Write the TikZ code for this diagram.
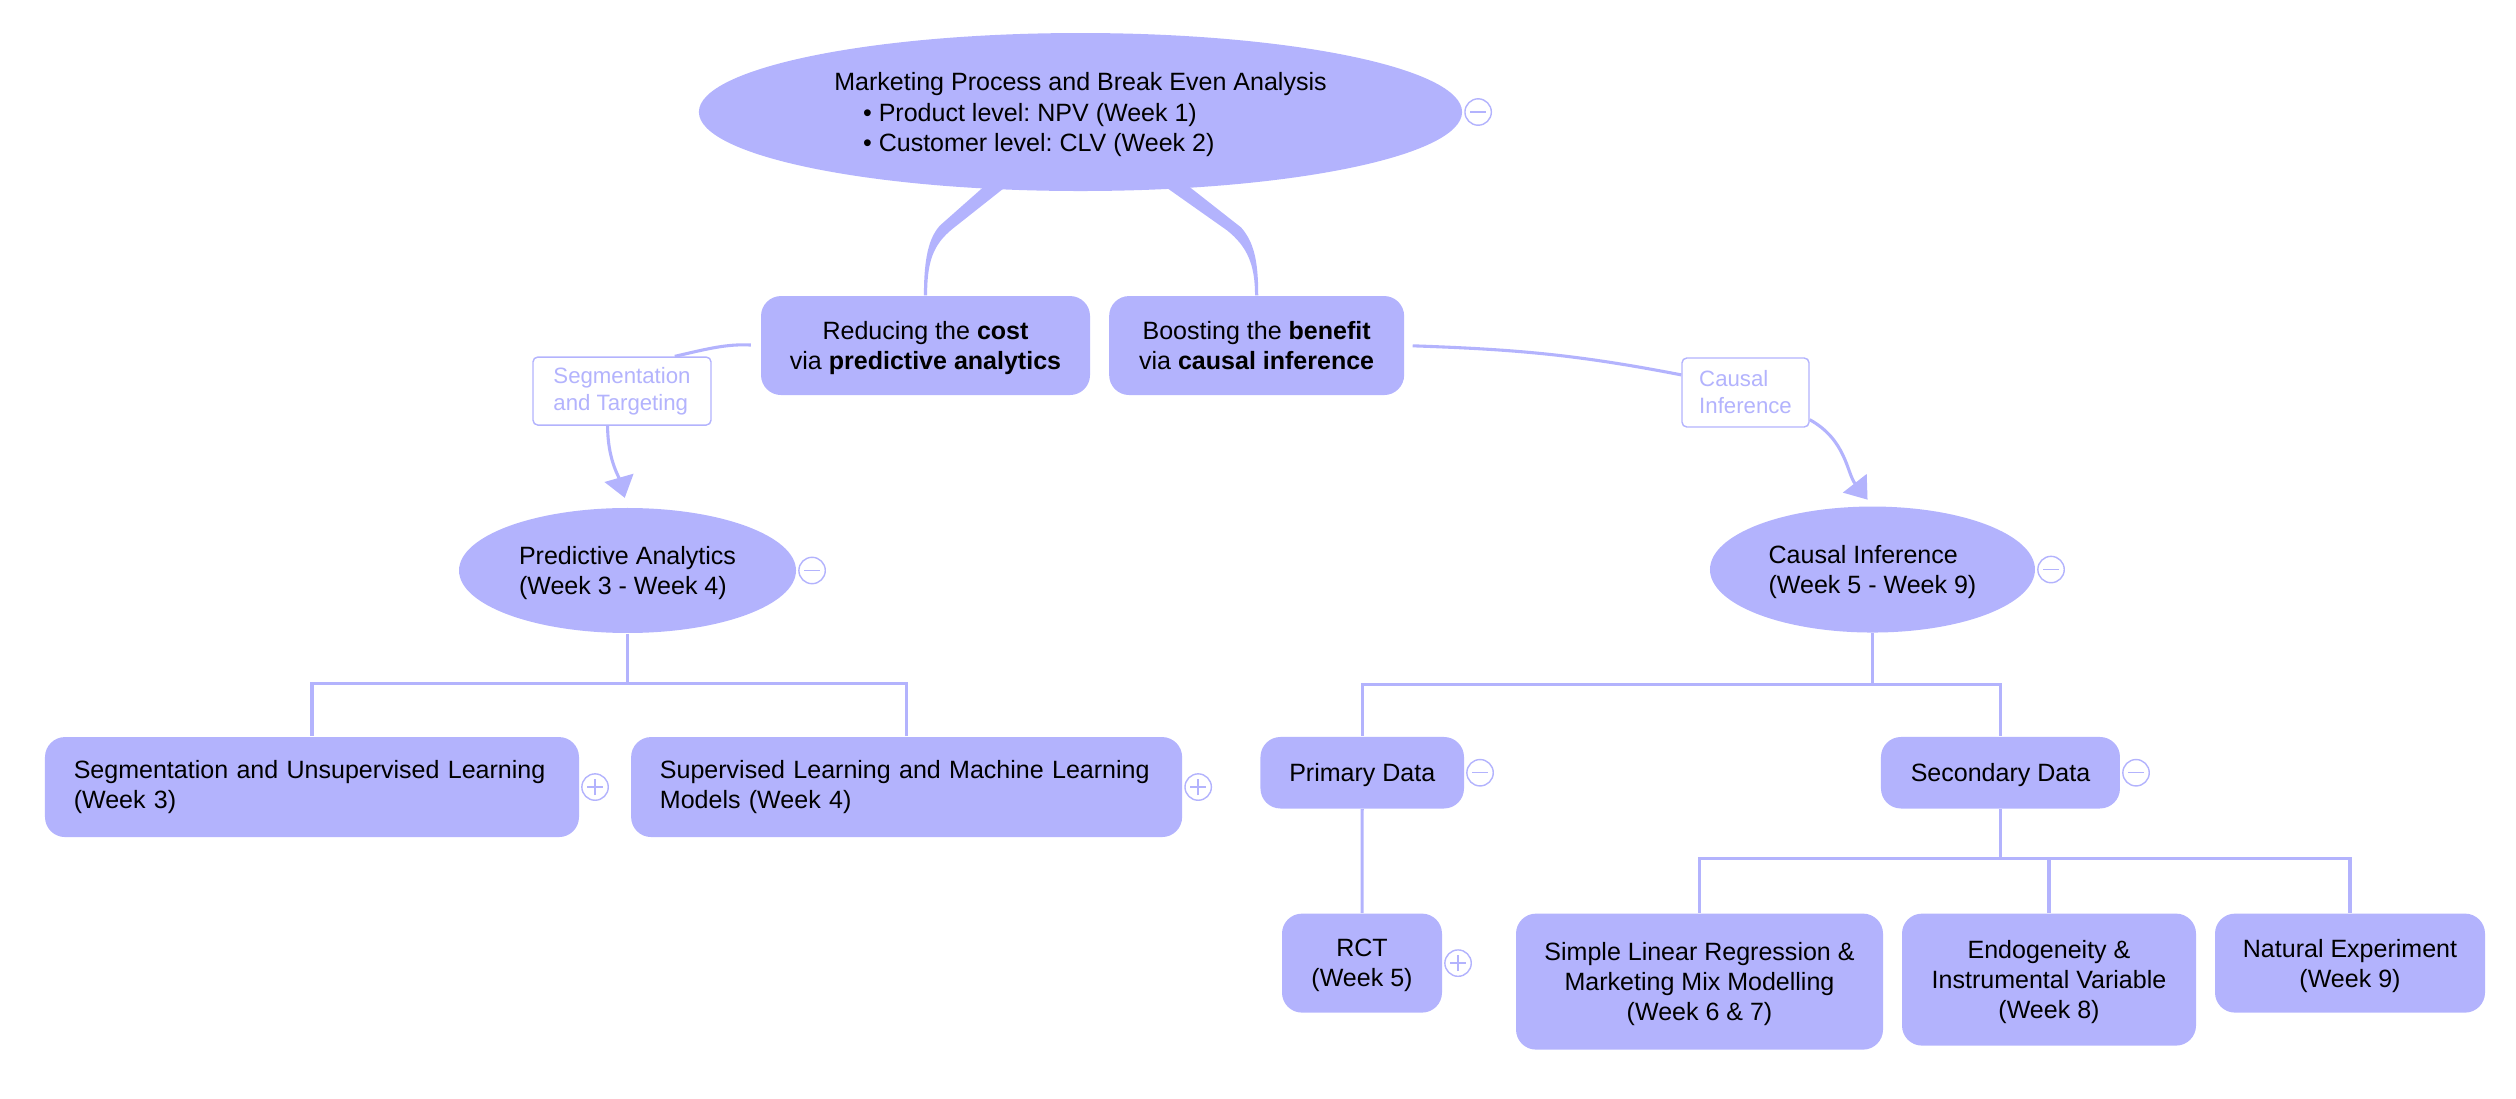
\documentclass[tikz,border=0pt]{standalone}
\usepackage{fontspec}
\setmainfont{Liberation Sans}
\usetikzlibrary{positioning}
\usetikzlibrary{calc}
\usetikzlibrary{shapes}
\usetikzlibrary{arrows.meta}
\definecolor{topic}{RGB}{179,179,253}
\frenchspacing

\begin{document}
\begin{tikzpicture}
\fontsize{8.9}{10.7}\selectfont

% used shapes
\tikzstyle{topicbox} = [rectangle, fill=topic, rounded corners=0.25cm, inner sep=0pt, text depth=0pt, align=center]
\tikzstyle{leftbox} = [rectangle, fill=topic, rounded corners=0.25cm, inner ysep=0pt, inner xsep=0.36cm, align=left, minimum height=1.25cm]
\tikzstyle{topicell} = [ellipse, fill=topic, inner sep=0pt, text depth=0pt, align=left]
\tikzstyle{tag} = [rectangle, draw=topic, line width=0.5pt, fill=white, rounded corners=0.06cm, text=topic, inner sep=0pt, align=left, font=\fontsize{7.9}{9.6}\selectfont]
\tikzstyle{fold} = [circle, draw=topic, line width=0.5pt, fill=white, minimum size=0.33cm, inner sep=0pt]
\tikzstyle{foldminus} = [fold, path picture={\draw[topic, line width=0.5pt] ([xshift=-0.1cm]path picture bounding box.center) -- ([xshift=0.1cm]path picture bounding box.center);}]
\tikzstyle{foldplus} = [fold, path picture={\draw[topic, line width=0.5pt] ([xshift=-0.1cm]path picture bounding box.center) -- ([xshift=0.1cm]path picture bounding box.center) ([yshift=-0.1cm]path picture bounding box.center) -- ([yshift=0.1cm]path picture bounding box.center);}]
\tikzstyle{branch} = [draw=topic, line width=1.1pt]
\tikzstyle{linkarrow} = [draw=topic, line width=1.1pt, -{Triangle[width=0.37cm,length=0.26cm]}]

\useasboundingbox (0,0) rectangle (31.45,-13.725);

% central topic
\node [topicell, minimum width=9.54cm, minimum height=1.975cm] (mkt) at (13.506,-1.4) {Marketing Process and Break Even Analysis\\ \hspace*{0.36cm}\textbullet\ Product level: NPV (Week 1)\\ \hspace*{0.36cm}\textbullet\ Customer level: CLV (Week 2)};
\node [foldminus, right=0.02cm of mkt] (mktfold) {};

\node [topicbox, minimum width=4.1125cm, minimum height=1.2375cm] (reduce) at (11.569,-4.319) {Reducing the \textbf{cost}\\ via \textbf{predictive analytics}};
\node [topicbox, minimum width=3.6875cm, minimum height=1.2375cm, right=0.225cm of reduce] (boost) {Boosting the \textbf{benefit}\\ via \textbf{causal inference}};

\node [tag, minimum width=2.225cm, minimum height=0.85cm] (seglbl) at (7.775,-4.888) {Segmentation\\ and Targeting};
\node [tag, minimum width=1.5875cm, minimum height=0.8625cm] (cilbl) at (21.819,-4.906) {Causal\\ Inference};

% predictive side
\node [topicell, minimum width=4.2125cm, minimum height=1.5625cm] (pred) at (7.844,-7.131) {Predictive Analytics\\ (Week 3 - Week 4)};
\node [foldminus, right=0.02cm of pred] (predfold) {};

\node [leftbox, text width=5.955cm] (segbox) at (3.9,-9.838) {Segmentation and Unsupervised Learning\\ (Week 3)};
\node [leftbox, text width=6.1675cm, right=0.6375cm of segbox] (supbox) {Supervised Learning and Machine Learning\\ Models (Week 4)};
\node [foldplus, right=0.02cm of segbox] (segfold) {};
\node [foldplus, right=0.02cm of supbox] (supfold) {};

% causal side
\node [topicell, minimum width=4.0625cm, minimum height=1.575cm] (causal) at (23.406,-7.119) {Causal Inference\\ (Week 5 - Week 9)};
\node [foldminus, right=0.02cm of causal] (causalfold) {};

\node [topicbox, minimum width=2.544cm, minimum height=0.894cm] (primary) at (17.028,-9.659) {Primary Data};
\node [topicbox, minimum width=2.9875cm, minimum height=0.894cm] (secondary) at (25.006,-9.659) {Secondary Data};
\node [foldminus, right=0.02cm of primary] (primfold) {};
\node [foldminus, right=0.02cm of secondary] (secfold) {};

\node [topicbox, anchor=north, minimum width=2.0cm, minimum height=1.2375cm] (rct) at (17.025,-11.413) {RCT\\ (Week 5)};
\node [foldplus, right=0.02cm of rct] (rctfold) {};
\node [topicbox, anchor=north, minimum width=4.5875cm, minimum height=1.7cm] (slr) at (21.244,-11.413) {Simple Linear Regression \&\\ Marketing Mix Modelling\\ (Week 6 \& 7)};
\node [topicbox, anchor=north, minimum width=3.675cm, minimum height=1.65cm] (endo) at (25.6125,-11.413) {Endogeneity \&\\ Instrumental Variable\\ (Week 8)};
\node [topicbox, anchor=north, minimum width=3.375cm, minimum height=1.2375cm] (natexp) at (29.375,-11.413) {Natural Experiment\\ (Week 9)};

% stems from the central topic
\fill[topic] ($(mkt.south)+(-1.206,0.063)$) -- ($(reduce.north)+(0.181,0.875)$) .. controls ($(reduce.north)+(0.044,0.725)$) and ($(reduce.north)+(-0.02,0.475)$) .. ($(reduce.north)+(-0.02,0)$) -- ($(reduce.north)+(0.02,0)$) .. controls ($(reduce.north)+(0.02,0.425)$) and ($(reduce.north)+(0.094,0.638)$) .. ($(reduce.north)+(0.344,0.838)$) -- ($(mkt.south)+(-0.931,0.063)$) -- cycle;
\fill[topic] ($(mkt.south)+(1.056,0.063)$) -- ($(boost.north)+(-0.369,0.813)$) .. controls ($(boost.north)+(-0.119,0.613)$) and ($(boost.north)+(-0.02,0.388)$) .. ($(boost.north)+(-0.02,0)$) -- ($(boost.north)+(0.02,0)$) .. controls ($(boost.north)+(0.02,0.425)$) and ($(boost.north)+(-0.031,0.663)$) .. ($(boost.north)+(-0.194,0.85)$) -- ($(mkt.south)+(1.356,0.063)$) -- cycle;

% relationships
\draw[branch, shorten <=0.12cm] (reduce.west) to[out=177,in=13] ($(seglbl.north)+(0.66,0)$);
\draw[linkarrow, shorten >=0.125cm] ($(seglbl.south)+(-0.18,0)$) to[out=-90,in=106] (pred.north);
\draw[branch, shorten <=0.1cm] (boost.east) to[out=-2,in=169] ($(cilbl.west)+(0,0.22)$);
\draw[linkarrow, shorten >=0.1cm] ($(cilbl.east)+(0,-0.34)$) to[out=-29,in=128] (causal.north);

% tree lines
\draw[branch] (pred.south) -- ++(0,-0.625) coordinate (predfork) -| (segbox.north);
\draw[branch] (predfork) -| (supbox.north);
\draw[branch] (causal.south) -- ++(0,-0.6375) coordinate (causalfork) -| (primary.north);
\draw[branch] (causalfork) -| (secondary.north);
\draw[branch] (primary) -- (rct);
\draw[branch] (secondary.south) -- ++(0,-0.62) coordinate (secfork) -| (slr.north);
\draw[branch] (secfork) -| (endo.north);
\draw[branch] (secfork) -| (natexp.north);

\end{tikzpicture}
\end{document}
